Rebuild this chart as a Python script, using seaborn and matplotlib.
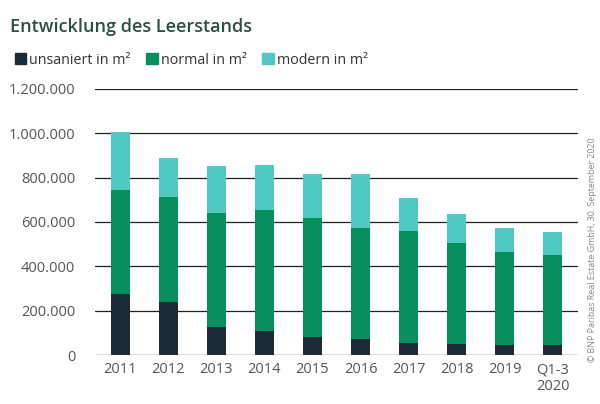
import seaborn as sns
import matplotlib.pyplot as plt
import matplotlib.patches as mpatches
import pandas as pd

# Leerstand in m² je Jahr
jahre = ["2011", "2012", "2013", "2014", "2015", "2016", "2017", "2018", "2019", "Q1-3\n2020"]
unsaniert = [276000, 241000, 128000, 109000, 81000, 71000, 53000, 48000, 45000, 44000]
normal = [467000, 471000, 511000, 543000, 539000, 502000, 505000, 457000, 418000, 407000]
modern = [262000, 178000, 213000, 203000, 195000, 242000, 151000, 132000, 110000, 104000]

farben = {"unsaniert": "#1c2a35", "normal": "#098f5e", "modern": "#4fc9c2"}

df = pd.DataFrame({"jahr": jahre, "unsaniert": unsaniert, "normal": normal, "modern": modern})
df["stufe2"] = df["unsaniert"] + df["normal"]
df["gesamt"] = df["stufe2"] + df["modern"]

sns.set_style("white")
plt.rcParams["font.family"] = ["Open Sans", "DejaVu Sans"]

fig = plt.figure(figsize=(6, 4.04), dpi=100)
ax = fig.add_axes([0.158, 0.121, 0.805, 0.659])

# Stapel als übereinanderliegende Balken zeichnen
sns.barplot(data=df, x="jahr", y="gesamt", color=farben["modern"], width=0.4,
            saturation=1, ax=ax, zorder=3, edgecolor="none")
sns.barplot(data=df, x="jahr", y="stufe2", color=farben["normal"], width=0.4,
            saturation=1, ax=ax, zorder=3, edgecolor="none")
sns.barplot(data=df, x="jahr", y="unsaniert", color=farben["unsaniert"], width=0.4,
            saturation=1, ax=ax, zorder=3, edgecolor="none")

ax.set_ylim(0, 1200000)
ax.set_xlim(-0.53, 9.52)
ax.set_yticks(range(0, 1200001, 200000))
ax.set_yticklabels(["0" if v == 0 else f"{v:,}".replace(",", ".") for v in range(0, 1200001, 200000)])
ax.yaxis.grid(True, color="#222222", linewidth=0.9, zorder=0)
ax.set_axisbelow(True)
for s in ax.spines.values():
    s.set_visible(False)
ax.set_xlabel("")
ax.set_ylabel("")
ax.tick_params(axis="both", length=0, labelsize=10.5, labelcolor="#555555")
ax.tick_params(axis="y", pad=14)
ax.tick_params(axis="x", pad=5)

fig.text(0.017, 0.922, "Entwicklung des Leerstands", fontsize=13, color="#2e4d45",
         fontweight="semibold", va="baseline")

handles = [mpatches.Patch(color=farben[k]) for k in ["unsaniert", "normal", "modern"]]
fig.legend(handles, ["unsaniert in m²", "normal in m²", "modern in m²"], loc="upper left",
           bbox_to_anchor=(0.025, 0.87), ncol=3, frameon=False, fontsize=10.3,
           handlelength=0.8, handleheight=0.8, handletextpad=0.2, columnspacing=1.1,
           labelcolor="#333333", borderaxespad=0, borderpad=0)

fig.text(0.987, 0.381, "© BNP Paribas Real Estate GmbH, 30. September 2020", rotation=90,
         fontsize=6.4, color="#888888", ha="center", va="center")

plt.savefig("out.png", dpi=100)
plt.close()
